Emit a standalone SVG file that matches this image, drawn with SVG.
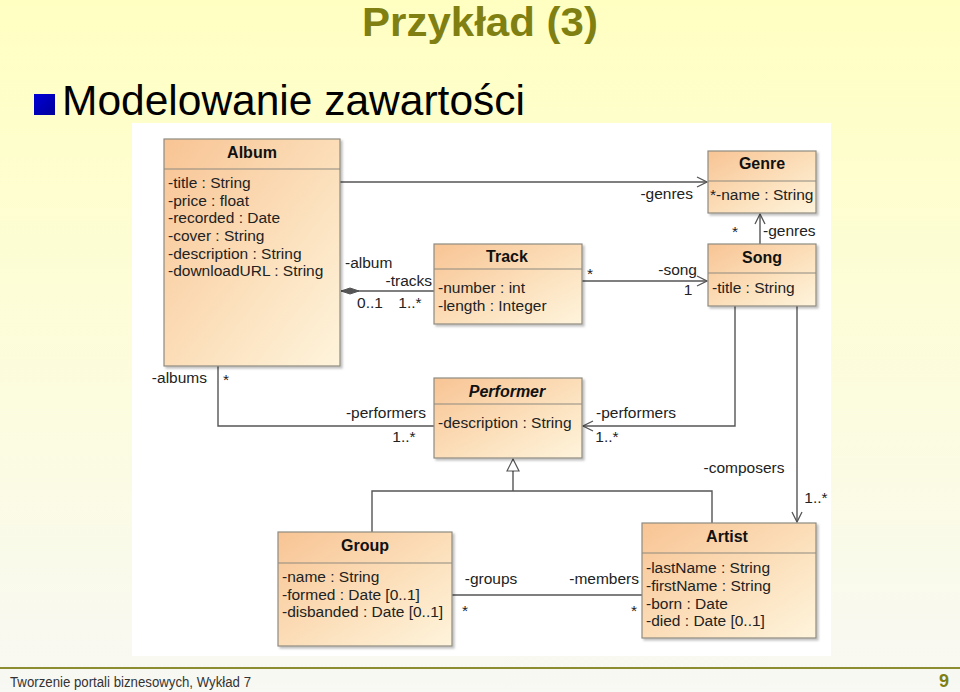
<svg xmlns="http://www.w3.org/2000/svg" width="960" height="692" viewBox="0 0 960 692">
<defs>
<linearGradient id="bg" x1="0" y1="0" x2="0" y2="1">
<stop offset="0" stop-color="#FFFFC2"/>
<stop offset="0.6" stop-color="#FCFCE0"/>
<stop offset="1" stop-color="#F8F8F4"/>
</linearGradient>
<linearGradient id="node" x1="0" y1="0" x2="1" y2="1">
<stop offset="0" stop-color="#F8C494"/>
<stop offset="0.6" stop-color="#FCE2BF"/>
<stop offset="1" stop-color="#FEF4DC"/>
</linearGradient>
<linearGradient id="sq" x1="0" y1="0" x2="1" y2="1">
<stop offset="0" stop-color="#0000D8"/>
<stop offset="1" stop-color="#00009A"/>
</linearGradient>
<marker id="open" viewBox="0 0 12 12" refX="11" refY="6" markerWidth="12" markerHeight="12" markerUnits="userSpaceOnUse" orient="auto">
<path d="M1,1 L11,6 L1,11" fill="none" stroke="#555" stroke-width="1.3"/>
</marker>
<marker id="diamond" viewBox="0 0 20 8" refX="0" refY="4" markerWidth="20" markerHeight="8" markerUnits="userSpaceOnUse" orient="auto">
<path d="M0,4 L9,1 L18,4 L9,7 Z" fill="#555" stroke="#555" stroke-width="1"/>
</marker>
<marker id="tri" viewBox="0 0 14 14" refX="13" refY="7" markerWidth="14" markerHeight="14" markerUnits="userSpaceOnUse" orient="auto">
<path d="M1,1 L13,7 L1,13 Z" fill="#fff" stroke="#555" stroke-width="1.2"/>
</marker>
<filter id="sh" x="-5%" y="-5%" width="115%" height="115%">
<feDropShadow dx="2" dy="2" stdDeviation="1.2" flood-color="#000" flood-opacity="0.25"/>
</filter>
</defs>
<style>
.box{fill:url(#node);stroke:#8E8A80;stroke-width:1.2;filter:url(#sh)}
.div{stroke:#8E8A80;stroke-width:1.2}
.hd{font-family:"Liberation Sans",Arial,sans-serif;font-size:16px;font-weight:bold;fill:#111;text-anchor:middle}
.at{font-family:"Liberation Sans",Arial,sans-serif;font-size:15.5px;fill:#222}
.lb{font-family:"Liberation Sans",Arial,sans-serif;font-size:15.5px;fill:#222}
.ln{fill:none;stroke:#555;stroke-width:1.4}
</style>
<rect x="0" y="0" width="960" height="692" fill="url(#bg)"/>
<text x="480" y="36" font-family="'Liberation Sans',Arial,sans-serif" font-size="40" font-weight="bold" fill="#7F7F12" text-anchor="middle" textLength="236" lengthAdjust="spacingAndGlyphs">Przykład (3)</text>
<rect x="34" y="94" width="21" height="21" fill="url(#sq)"/>
<text x="62" y="115" font-family="'Liberation Sans',Arial,sans-serif" font-size="43" fill="#000" textLength="463" lengthAdjust="spacingAndGlyphs">Modelowanie zawartości</text>
<rect x="132" y="123" width="699" height="533" fill="#FFFFFF"/>

<g id="connectors">
<path class="ln" d="M340,182 H707" marker-end="url(#open)"/>
<path class="ln" d="M760,244 V214" marker-end="url(#open)"/>
<path class="ln" d="M341,291 H434" marker-start="url(#diamond)"/>
<path class="ln" d="M582,281 H707" marker-end="url(#open)"/>
<path class="ln" d="M218,366 V426 H434"/>
<path class="ln" d="M735,306 V426 H583" marker-end="url(#open)"/>
<path class="ln" d="M797,306 V522" marker-end="url(#open)"/>
<path class="ln" d="M513,459 V491"/>
<path class="ln" d="M513,472 V459" marker-end="url(#tri)"/>
<path class="ln" d="M372,532 V491 H712 V523"/>
<path class="ln" d="M452,595 H642"/>
<text class="lb" x="693" y="199" text-anchor="end">-genres</text>
<text class="lb" x="735" y="237" text-anchor="middle">*</text>
<text class="lb" x="763" y="236">-genres</text>
<text class="lb" x="345" y="268">-album</text>
<text class="lb" x="432" y="286" text-anchor="end">-tracks</text>
<text class="lb" x="370" y="308" text-anchor="middle">0..1</text>
<text class="lb" x="410" y="308" text-anchor="middle">1..*</text>
<text class="lb" x="590" y="279" text-anchor="middle">*</text>
<text class="lb" x="697" y="275" text-anchor="end">-song</text>
<text class="lb" x="688" y="295" text-anchor="middle">1</text>
<text class="lb" x="207" y="383" text-anchor="end">-albums</text>
<text class="lb" x="226" y="385" text-anchor="middle">*</text>
<text class="lb" x="426" y="418" text-anchor="end">-performers</text>
<text class="lb" x="404" y="442" text-anchor="middle">1..*</text>
<text class="lb" x="596" y="418">-performers</text>
<text class="lb" x="607" y="442" text-anchor="middle">1..*</text>
<text class="lb" x="744" y="473" text-anchor="middle">-composers</text>
<text class="lb" x="816" y="503" text-anchor="middle">1..*</text>
<text class="lb" x="491" y="584" text-anchor="middle">-groups</text>
<text class="lb" x="465" y="616" text-anchor="middle">*</text>
<text class="lb" x="639" y="584" text-anchor="end">-members</text>
<text class="lb" x="634" y="616" text-anchor="middle">*</text>
</g>

<g id="album">
<rect class="box" x="164" y="139" width="176" height="227"/>
<line class="div" x1="164" y1="169" x2="340" y2="169"/>
<text class="hd" x="252" y="158">Album</text>
<text class="at" x="168" y="188">-title : String</text>
<text class="at" x="168" y="206">-price : float</text>
<text class="at" x="168" y="223">-recorded : Date</text>
<text class="at" x="168" y="241">-cover : String</text>
<text class="at" x="168" y="259">-description : String</text>
<text class="at" x="168" y="276">-downloadURL : String</text>
</g>

<g id="genre">
<rect class="box" x="708" y="151" width="108" height="62"/>
<line class="div" x1="708" y1="181" x2="816" y2="181"/>
<text class="hd" x="762" y="169">Genre</text>
<text class="at" x="710" y="200">*-name : String</text>
</g>

<g id="track">
<rect class="box" x="434" y="244" width="148" height="80"/>
<line class="div" x1="434" y1="269" x2="582" y2="269"/>
<text class="hd" x="507" y="262">Track</text>
<text class="at" x="438" y="293">-number : int</text>
<text class="at" x="438" y="311">-length : Integer</text>
</g>

<g id="song">
<rect class="box" x="708" y="244" width="108" height="62"/>
<line class="div" x1="708" y1="273" x2="816" y2="273"/>
<text class="hd" x="762" y="263">Song</text>
<text class="at" x="712" y="293">-title : String</text>
</g>

<g id="performer">
<rect class="box" x="434" y="378" width="148" height="80"/>
<line class="div" x1="434" y1="404" x2="582" y2="404"/>
<text class="hd" x="507" y="397" font-style="italic">Performer</text>
<text class="at" x="438" y="428">-description : String</text>
</g>

<g id="group">
<rect class="box" x="278" y="532" width="174" height="114"/>
<line class="div" x1="278" y1="563" x2="452" y2="563"/>
<text class="hd" x="365" y="551">Group</text>
<text class="at" x="282" y="582">-name : String</text>
<text class="at" x="282" y="600">-formed : Date [0..1]</text>
<text class="at" x="282" y="617">-disbanded : Date [0..1]</text>
</g>

<g id="artist">
<rect class="box" x="642" y="523" width="174" height="115"/>
<line class="div" x1="642" y1="553" x2="816" y2="553"/>
<text class="hd" x="727" y="542">Artist</text>
<text class="at" x="646" y="573">-lastName : String</text>
<text class="at" x="646" y="591">-firstName : String</text>
<text class="at" x="646" y="609">-born : Date</text>
<text class="at" x="646" y="626">-died : Date [0..1]</text>
</g>

<line x1="0" y1="668" x2="960" y2="668" stroke="#8C8C30" stroke-width="2"/>
<text x="10" y="687" font-family="'Liberation Sans',Arial,sans-serif" font-size="14" fill="#333" textLength="241" lengthAdjust="spacingAndGlyphs">Tworzenie portali biznesowych, Wykład 7</text>
<text x="944" y="687" font-family="'Liberation Sans',Arial,sans-serif" font-size="18" font-weight="bold" fill="#7F7F12" text-anchor="middle">9</text>
</svg>
